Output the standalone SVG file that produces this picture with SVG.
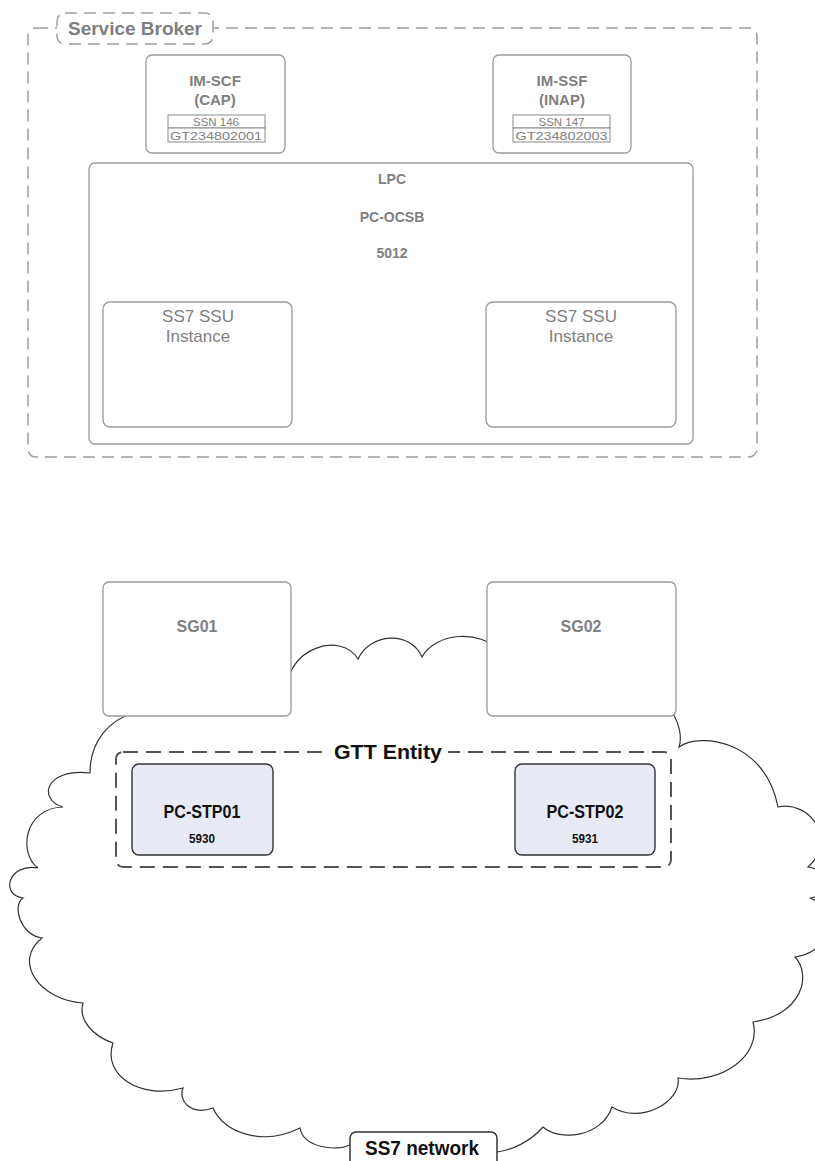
<svg xmlns="http://www.w3.org/2000/svg" width="815" height="1161" viewBox="0 0 815 1161">
<style>
.gbox{fill:#fff;stroke:#9a9a9a;stroke-width:1.3}
.frame{fill:none;stroke:#9e9e9e;stroke-width:1.5;stroke-dasharray:12 7}
.gtt{fill:none;stroke:#555;stroke-width:2;stroke-dasharray:15 8}
.stp{fill:#e8ebf5;stroke:#333;stroke-width:1.4}
.cell{fill:#fff;stroke:#8a8a8a;stroke-width:1}
.gb{font-family:"Liberation Sans",Arial,sans-serif;font-weight:bold;fill:#7f7f7f;text-anchor:middle}
.gr{font-family:"Liberation Sans",Arial,sans-serif;fill:#7f7f7f;text-anchor:middle}
.kb{font-family:"Liberation Sans",Arial,sans-serif;font-weight:bold;fill:#111;text-anchor:middle}
.cloud{fill:#fff;stroke:#333;stroke-width:1.2}
</style>
<rect width="815" height="1161" fill="#fff"/>

<g id="service-broker">
<rect class="frame" x="28" y="28" width="729" height="429" rx="8"/>
<rect x="57" y="13" width="156" height="31" rx="8" fill="#fff" stroke="#9e9e9e" stroke-width="1.5" stroke-dasharray="12 7"/>
<text class="gb" x="135" y="35" font-size="18" textLength="134" lengthAdjust="spacingAndGlyphs">Service Broker</text>
</g>

<g id="im-scf">
<rect class="gbox" x="146" y="55" width="139" height="98" rx="6"/>
<text class="gb" x="215" y="86" font-size="15">IM-SCF</text>
<text class="gb" x="215" y="105" font-size="15">(CAP)</text>
<rect class="cell" x="168" y="115" width="97" height="13"/>
<rect class="cell" x="168" y="128" width="97" height="14"/>
<text class="gr" x="216" y="126" font-size="11.5">SSN 146</text>
<text class="gr" x="216" y="139.5" font-size="11.5" textLength="92" lengthAdjust="spacingAndGlyphs">GT234802001</text>
</g>

<g id="im-ssf">
<rect class="gbox" x="493" y="55" width="138" height="98" rx="6"/>
<text class="gb" x="562" y="86" font-size="15">IM-SSF</text>
<text class="gb" x="562" y="105" font-size="15">(INAP)</text>
<rect class="cell" x="513" y="115" width="97" height="13"/>
<rect class="cell" x="513" y="128" width="97" height="14"/>
<text class="gr" x="561.5" y="126" font-size="11.5">SSN 147</text>
<text class="gr" x="561.5" y="139.5" font-size="11.5" textLength="92" lengthAdjust="spacingAndGlyphs">GT234802003</text>
</g>

<g id="lpc">
<rect class="gbox" x="89" y="163" width="604" height="281" rx="6"/>
<text class="gb" x="392" y="184" font-size="14">LPC</text>
<text class="gb" x="392" y="222" font-size="14">PC-OCSB</text>
<text class="gb" x="392" y="258" font-size="14">5012</text>
</g>

<g id="ssu1">
<rect class="gbox" x="103" y="302" width="189" height="125" rx="7"/>
<text class="gr" x="198" y="322" font-size="17">SS7 SSU</text>
<text class="gr" x="198" y="342" font-size="17">Instance</text>
</g>

<g id="ssu2">
<rect class="gbox" x="486" y="302" width="190" height="125" rx="7"/>
<text class="gr" x="581" y="322" font-size="17">SS7 SSU</text>
<text class="gr" x="581" y="342" font-size="17">Instance</text>
</g>

<g id="ss7-network">
<path class="cloud" d="M288,690 C285,650 340,630 358,659 C370,633 410,630 422,657 C435,633 480,628 500,652 L660,700 L672,712 C680,725 682,738 679,747 C700,732 765,740 778,807 C810,800 838,840 808,867 C830,870 834,895 810,898 C842,910 832,952 795,957 C812,975 802,1015 753,1022 C762,1055 722,1085 678,1078 C682,1102 640,1125 612,1107 C602,1137 560,1142 543,1127 C530,1142 512,1150 497,1152 L350,1145 C335,1152 303,1147 300,1128 C262,1147 223,1132 213,1108 C190,1116 178,1100 183,1088 C140,1100 102,1075 113,1043 C93,1036 78,1020 83,1003 C40,1000 12,962 42,938 C20,935 12,905 23,898 C0,895 8,863 38,868 C18,853 24,808 63,807 C38,800 44,768 90,773 C90,740 110,720 135,712 Z"/>
<rect x="350" y="1132" width="147" height="45" rx="6" fill="#fff" stroke="#333" stroke-width="1.5"/>
<text class="kb" x="422" y="1155" font-size="19.5" textLength="114" lengthAdjust="spacingAndGlyphs">SS7 network</text>
</g>

<g id="sg01">
<rect class="gbox" x="103" y="582" width="188" height="134" rx="6"/>
<text class="gb" x="197" y="632" font-size="16">SG01</text>
</g>

<g id="sg02">
<rect class="gbox" x="487" y="582" width="189" height="134" rx="6"/>
<text class="gb" x="581" y="632" font-size="16">SG02</text>
</g>

<g id="gtt-entity">
<rect class="gtt" x="116" y="752" width="555" height="115" rx="7"/>
<rect x="328" y="744" width="120" height="16" fill="#fff"/>
<text class="kb" x="388" y="759" font-size="20" textLength="108" lengthAdjust="spacingAndGlyphs">GTT Entity</text>
</g>

<g id="pc-stp01">
<rect class="stp" x="132" y="764" width="141" height="91" rx="7"/>
<text class="kb" x="202" y="818" font-size="17.5" textLength="77" lengthAdjust="spacingAndGlyphs">PC-STP01</text>
<text class="kb" x="202" y="843" font-size="12.5" textLength="26" lengthAdjust="spacingAndGlyphs">5930</text>
</g>

<g id="pc-stp02">
<rect class="stp" x="515" y="764" width="140" height="91" rx="7"/>
<text class="kb" x="585" y="818" font-size="17.5" textLength="77" lengthAdjust="spacingAndGlyphs">PC-STP02</text>
<text class="kb" x="585" y="843" font-size="12.5" textLength="26" lengthAdjust="spacingAndGlyphs">5931</text>
</g>

<g id="connectors"></g>
</svg>
